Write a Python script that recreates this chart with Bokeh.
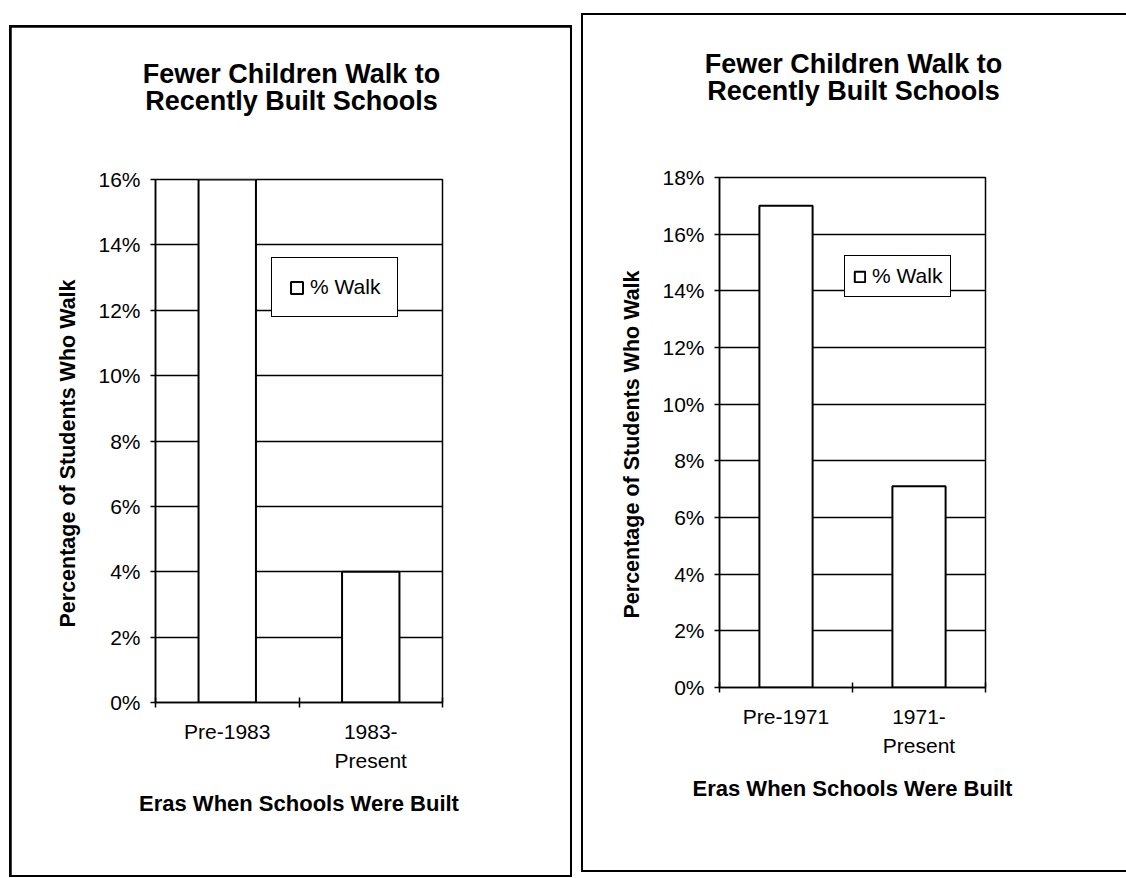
from bokeh.plotting import figure
from bokeh.layouts import row
from bokeh.models import (ColumnDataSource, Range1d, FixedTicker, PrintfTickFormatter,
                          Title, Label)
from bokeh.embed import file_html
from bokeh.resources import INLINE

# ---- data -------------------------------------------------------------
TITLE_LINES = ["Fewer Children Walk to", "Recently Built Schools"]
Y_TITLE = "Percentage of Students Who Walk"
X_TITLE = "Eras When Schools Were Built"
SERIES = "% Walk"

eras_1983 = ["Pre-1983", "1983-\nPresent"]
walk_1983 = [16.0, 4.0]
ticks_1983 = [0, 2, 4, 6, 8, 10, 12, 14, 16]

eras_1971 = ["Pre-1971", "1971-\nPresent"]
walk_1971 = [17.0, 7.1]
ticks_1971 = [0, 2, 4, 6, 8, 10, 12, 14, 16, 18]

FONT = "Liberation Sans"

# ---- page layout (pixels) ---------------------------------------------
# Both charts share the same top/bottom border, since a row lines them up.
BORDER_TOP = 152
BORDER_BOTTOM = 173

LEFT_PAGE = dict(box=(11, 570, 27), frame=(155, 442, 179, 702),
                 outline={"outline": "4px solid black", "outline-offset": "-2px"},
                 title_x=291, title_y=(73, 100), ytitle_offset=75,
                 legend_loc=(116, 385), legend_pad=17, legend_glyph=15)
RIGHT_PAGE = dict(box=(593, 1117, 25), frame=(719, 985, 177, 687),
                  outline={"outline": "2.5px solid black", "outline-offset": "10.75px"},
                  title_x=853, title_y=(63, 90), ytitle_offset=69,
                  legend_loc=(125, 390), legend_pad=8, legend_glyph=13)


def make_chart(eras, walk, yticks, page, prev_right):
    n = len(eras)
    slots = [i + 0.5 for i in range(n)]      # centre of each category slot
    edges = list(range(n + 1))               # slot boundaries
    ymax = yticks[-1]

    bl, br, bt = page["box"]
    fl, fr, ft, fb = page["frame"]
    height = BORDER_TOP + (fb - ft) + BORDER_BOTTOM

    p = figure(x_range=Range1d(0, n), y_range=Range1d(0, ymax),
               width=br - bl, height=height,
               margin=(bt, 0, 0, bl - prev_right), styles=page["outline"],
               toolbar_location=None, output_backend="svg", title=None,
               min_border_left=fl - bl, min_border_right=br - fr,
               min_border_top=BORDER_TOP, min_border_bottom=BORDER_BOTTOM)
    p.background_fill_color = "white"
    p.border_fill_color = "white"
    p.outline_line_color = "black"
    p.outline_line_width = 1.5

    src = ColumnDataSource(dict(slot=slots, era=eras, walk=walk))
    p.vbar(x="slot", top="walk", width=0.4, source=src,
           fill_color="white", line_color="black", line_width=2,
           legend_label=SERIES)

    # value axis
    ya = p.yaxis[0]
    ya.ticker = FixedTicker(ticks=yticks)
    ya.formatter = PrintfTickFormatter(format="%d%%")
    ya.major_tick_in = 0
    ya.major_tick_out = 5
    ya.minor_tick_line_color = None
    ya.axis_line_width = 1.5
    ya.major_tick_line_width = 1.5
    ya.major_label_standoff = 10
    ya.major_label_text_font = FONT
    ya.major_label_text_font_size = "21px"
    ya.major_label_text_color = "black"

    p.add_layout(Title(text=Y_TITLE, align="left", offset=page["ytitle_offset"],
                       standoff=32, text_font=FONT, text_font_style="bold",
                       text_font_size="21.5px", text_color="black"), "left")

    p.ygrid.ticker = FixedTicker(ticks=yticks)
    p.ygrid.grid_line_color = "black"
    p.ygrid.grid_line_width = 1.5
    p.xgrid.grid_line_color = None

    # category axis: names at slot centres, cross ticks at slot boundaries
    xa = p.xaxis[0]
    xa.ticker = FixedTicker(ticks=slots, minor_ticks=edges)
    xa.major_label_overrides = {s: e for s, e in zip(slots, eras)}
    xa.major_tick_line_color = None
    xa.major_tick_in = 0
    xa.major_tick_out = 6
    xa.minor_tick_in = 5
    xa.minor_tick_out = 5
    xa.minor_tick_line_width = 1.5
    xa.minor_tick_line_color = "black"
    xa.axis_line_width = 1.5
    xa.major_label_standoff = 11
    xa.major_label_text_font = FONT
    xa.major_label_text_font_size = "21px"
    xa.major_label_text_color = "black"
    xa.major_label_text_line_height = 1.3
    xa.axis_label = X_TITLE
    xa.axis_label_standoff = 16
    xa.axis_label_text_font = FONT
    xa.axis_label_text_font_style = "bold"
    xa.axis_label_text_font_size = "22px"
    xa.axis_label_text_color = "black"

    # legend box
    lg = p.legend[0]
    lg.location = page["legend_loc"]
    lg.margin = 0
    lg.padding = page["legend_pad"]
    lg.glyph_width = page["legend_glyph"]
    lg.glyph_height = page["legend_glyph"]
    lg.label_standoff = 6
    lg.label_text_font = FONT
    lg.label_text_font_size = "21px"
    lg.label_text_color = "black"
    lg.border_line_color = "black"
    lg.border_line_alpha = 1.0
    lg.border_line_width = 1.5
    lg.background_fill_color = "white"
    lg.background_fill_alpha = 1.0

    # two-line chart title, centred over the chart area
    tx = (page["title_x"] - fl) / (fr - fl) * n
    for text, py in zip(TITLE_LINES, page["title_y"]):
        ty = (fb - py) / (fb - ft) * ymax
        p.add_layout(Label(x=tx, y=ty, text=text, text_align="center",
                           text_baseline="middle", text_font=FONT,
                           text_font_style="bold", text_font_size="27px",
                           text_color="black"), "above")
    return p


left = make_chart(eras_1983, walk_1983, ticks_1983, LEFT_PAGE, prev_right=0)
right = make_chart(eras_1971, walk_1971, ticks_1971, RIGHT_PAGE,
                   prev_right=LEFT_PAGE["box"][1])

layout = row(left, right)

open("out.html", "w").write(file_html(layout, INLINE))
